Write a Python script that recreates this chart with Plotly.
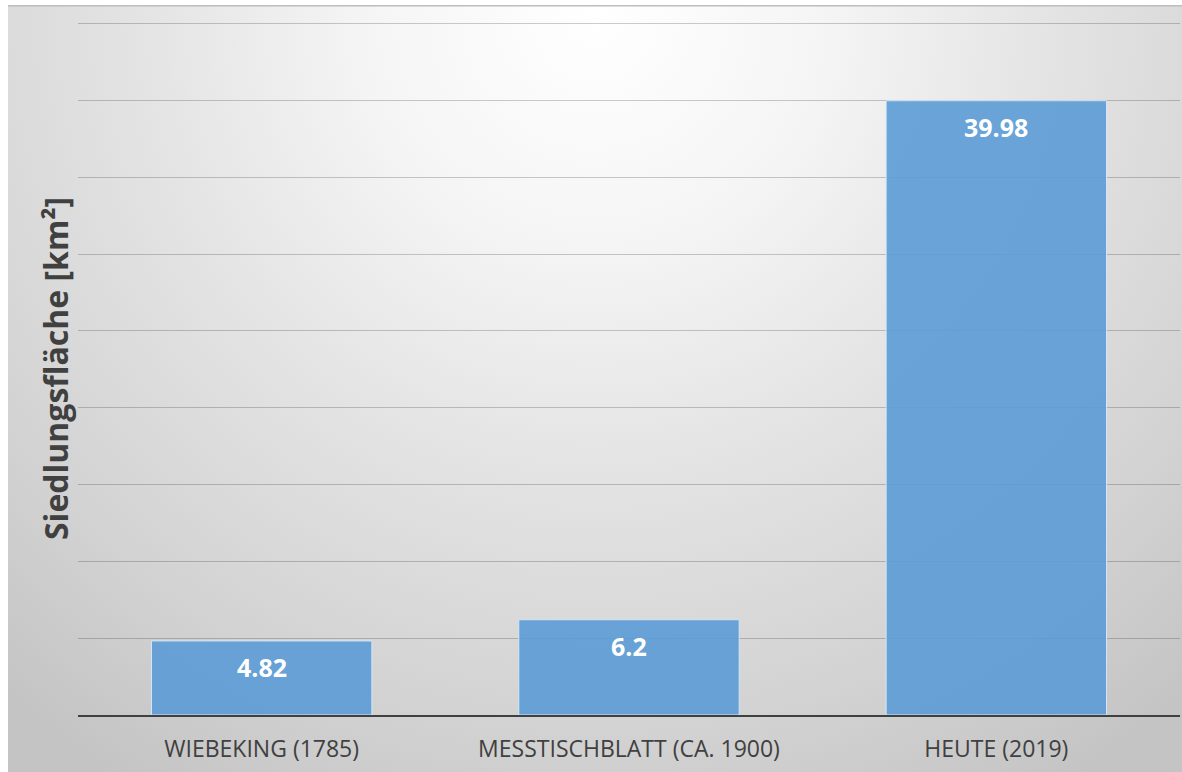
import base64
import plotly.graph_objects as go

# Siedlungsfläche je Kartengrundlage
categories = ["WIEBEKING (1785)", "MESSTISCHBLATT (CA. 1900)", "HEUTE (2019)"]
values = [4.82, 6.2, 39.98]

W, H = 1182, 772
M_L, M_R, M_T, M_B = 78, 2, 19, 57
Y_MAX = 45.3
PANEL_X0, PANEL_Y0 = 8, 5

# radial grey backdrop (light at top centre, darker towards the edges)
pw, ph = W - PANEL_X0, H - PANEL_Y0
svg = f"""<svg xmlns='http://www.w3.org/2000/svg' width='{pw}' height='{ph}' viewBox='0 0 {pw} {ph}'>
<defs><radialGradient id='g' gradientUnits='userSpaceOnUse' cx='{pw/2}' cy='10' r='900'>
<stop offset='0' stop-color='#ffffff'/>
<stop offset='0.25' stop-color='#f5f5f5'/>
<stop offset='0.5' stop-color='#e4e4e4'/>
<stop offset='0.8' stop-color='#d2d2d2'/>
<stop offset='1' stop-color='#c4c4c4'/>
</radialGradient></defs>
<rect x='0' y='0' width='{pw}' height='{ph}' fill='url(#g)'/>
<rect x='0' y='0' width='{pw}' height='1.5' fill='#bdbdbd'/>
</svg>"""
src = "data:image/svg+xml;base64," + base64.b64encode(svg.encode()).decode()

plot_w = W - M_L - M_R
plot_h = H - M_T - M_B


def px_to_paper_x(px):
    return (px - M_L) / plot_w


def px_to_paper_y(py):
    return (H - M_B - py) / plot_h


fig = go.Figure()
fig.add_trace(go.Bar(
    x=categories,
    y=values,
    width=0.6,
    marker=dict(color="rgba(91,155,213,0.9)", line=dict(color="#d4e6f6", width=1)),
    hoverinfo="x+y",
))

# value labels inside the top of each bar
for c, v in zip(categories, values):
    fig.add_annotation(
        x=c, y=v, yshift=-26, text=f"<b>{v:g}</b>", showarrow=False,
        font=dict(family="Open Sans", size=25, color="white"),
        xanchor="center", yanchor="middle",
    )

fig.add_annotation(
    xref="paper", yref="paper", x=px_to_paper_x(55), y=px_to_paper_y(369),
    text="<b>Siedlungsfläche [km²]</b>", textangle=-90, showarrow=False,
    font=dict(family="Open Sans", size=32, color="#404040"),
    xanchor="center", yanchor="middle",
)

fig.add_layout_image(
    source=src, xref="paper", yref="paper",
    x=px_to_paper_x(PANEL_X0), y=px_to_paper_y(PANEL_Y0),
    sizex=pw / plot_w, sizey=ph / plot_h,
    xanchor="left", yanchor="top", sizing="stretch", layer="below",
)

fig.update_layout(
    width=W, height=H,
    margin=dict(l=M_L, r=M_R, t=M_T, b=M_B),
    paper_bgcolor="white",
    plot_bgcolor="rgba(0,0,0,0)",
    showlegend=False,
    font=dict(family="Open Sans", color="#404040"),
)
fig.update_xaxes(
    showline=True, linecolor="#404040", linewidth=2,
    showgrid=False, ticks="", tickfont=dict(size=23, color="#404040"),
    ticklabelstandoff=12,
)
fig.update_yaxes(
    range=[0, Y_MAX], dtick=5, showticklabels=False, showgrid=True,
    gridcolor="rgba(0,0,0,0.2)", gridwidth=1, zeroline=False, ticks="",
)

fig.write_html("out.html")
